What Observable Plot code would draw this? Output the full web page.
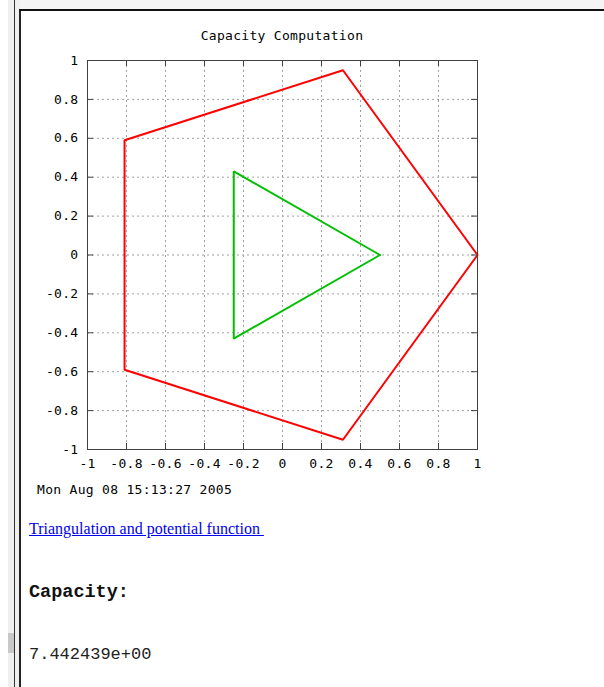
<!DOCTYPE html>
<html>
<head>
<meta charset="utf-8">
<script src="https://cdn.jsdelivr.net/npm/d3@7"></script>
<script src="https://cdn.jsdelivr.net/npm/@observablehq/plot@0.6"></script>
<style>
  html, body { margin: 0; padding: 0; background: #fff; }
  body { width: 604px; height: 687px; position: relative; overflow: hidden; }
  .abs { position: absolute; }
  .gp { font-family: "DejaVu Sans Mono", monospace; font-size: 13px; letter-spacing: 0.3px; color: #000; white-space: pre; }
</style>
</head>
<body>
<!-- window chrome -->
<div class="abs" style="left:8px;top:0;width:12px;height:687px;background:#efefef;"></div>
<div class="abs" style="left:14px;top:0;width:1px;height:687px;background:#333;"></div>
<div class="abs" style="left:19px;top:10px;width:2px;height:677px;background:#222;"></div>
<div class="abs" style="left:20px;top:0;width:584px;height:9px;background:#f4f4f4;"></div>
<div class="abs" style="left:19px;top:9px;width:585px;height:2px;background:#111;"></div>
<div class="abs" style="left:8px;top:633px;width:6px;height:20px;background:#c8c8c8;"></div>

<div id="title" class="abs gp" style="left:82px;top:28px;width:400px;text-align:center;"></div>
<div id="chart" class="abs" style="left:20px;top:45px;"></div>
<div id="date" class="abs gp" style="left:37px;top:482px;"></div>
<a id="link" class="abs" href="#" style="left:29px;top:520px;font-family:'Liberation Serif',serif;font-size:16px;color:#0000ee;text-decoration:underline;white-space:pre;"></a>
<div id="caplabel" class="abs" style="left:29px;top:582px;font-family:'Liberation Mono',monospace;font-weight:bold;font-size:18.5px;color:#111;"></div>
<div id="capvalue" class="abs" style="left:29px;top:645px;font-family:'Liberation Mono',monospace;font-size:17px;color:#222;"></div>

<script>
// ---- data ----
const titleText = "Capacity Computation";
const dateText = "Mon Aug 08 15:13:27 2005";
const linkText = "Triangulation and potential function ";
const capacityLabel = "Capacity:";
const capacityValue = "7.442439e+00";

const xTicks = [-1, -0.8, -0.6, -0.4, -0.2, 0, 0.2, 0.4, 0.6, 0.8, 1];
const xTickLabels = ["-1", "-0.8", "-0.6", "-0.4", "-0.2", "0", "0.2", "0.4", "0.6", "0.8", "1"];
const yTicks = [-1, -0.8, -0.6, -0.4, -0.2, 0, 0.2, 0.4, 0.6, 0.8, 1];
const yTickLabels = ["-1", "-0.8", "-0.6", "-0.4", "-0.2", "0", "0.2", "0.4", "0.6", "0.8", "1"];

// outer polygon (red), closed
const outerX = [1, 0.31, -0.81, -0.81, 0.31, 1];
const outerY = [0, 0.95, 0.59, -0.59, -0.95, 0];
// inner polygon (green), closed
const innerX = [0.5, -0.25, -0.25, 0.5];
const innerY = [0, 0.43, -0.43, 0];

// ---- build ----
const outer = outerX.map((x, i) => ({x, y: outerY[i]}));
const inner = innerX.map((x, i) => ({x, y: innerY[i]}));

const W = 480, H = 440;
const mL = 67, mR = 23, mT = 15, mB = 36;
const plotW = W - mL - mR, plotH = H - mT - mB;
const tickLen = 6;
const frameColor = "#404040";
const gridStyle = {stroke: "#a0a0a0", strokeOpacity: 1, strokeDasharray: "2,3", strokeWidth: 1};

const chart = Plot.plot({
  width: W,
  height: H,
  marginLeft: mL,
  marginRight: mR,
  marginTop: mT,
  marginBottom: mB,
  style: {fontFamily: "DejaVu Sans Mono, monospace", fontSize: "13px", letterSpacing: "0.3px", color: "#000", background: "transparent"},
  x: {domain: [-1, 1], axis: null},
  y: {domain: [-1, 1], axis: null},
  marks: [
    Plot.gridX(xTicks.slice(1, -1), gridStyle),
    Plot.gridY(yTicks.slice(1, -1), gridStyle),
    Plot.tickX(xTicks, {x: d => d, insetTop: plotH - tickLen, stroke: frameColor}),
    Plot.tickX(xTicks, {x: d => d, insetBottom: plotH - tickLen, stroke: frameColor}),
    Plot.tickY(yTicks, {y: d => d, insetRight: plotW - tickLen, stroke: frameColor}),
    Plot.tickY(yTicks, {y: d => d, insetLeft: plotW - tickLen, stroke: frameColor}),
    Plot.axisX(xTicks, {anchor: "bottom", tickSize: 0, tickPadding: 9, fill: "#000", label: null,
      tickFormat: d => xTickLabels[xTicks.indexOf(d)]}),
    Plot.axisY(yTicks, {anchor: "left", tickSize: 0, tickPadding: 9, fill: "#000", label: null,
      tickFormat: d => yTickLabels[yTicks.indexOf(d)]}),
    Plot.line(outer, {x: "x", y: "y", stroke: "#ff0000", strokeWidth: 2, strokeLinejoin: "miter"}),
    Plot.line(inner, {x: "x", y: "y", stroke: "#00c000", strokeWidth: 2, strokeLinejoin: "miter"}),
    Plot.frame({stroke: frameColor, strokeWidth: 1})
  ]
});
document.getElementById("chart").appendChild(chart);

document.getElementById("title").textContent = titleText;
document.getElementById("date").textContent = dateText;
document.getElementById("link").textContent = linkText;
document.getElementById("caplabel").textContent = capacityLabel;
document.getElementById("capvalue").textContent = capacityValue;
</script>
</body>
</html>
